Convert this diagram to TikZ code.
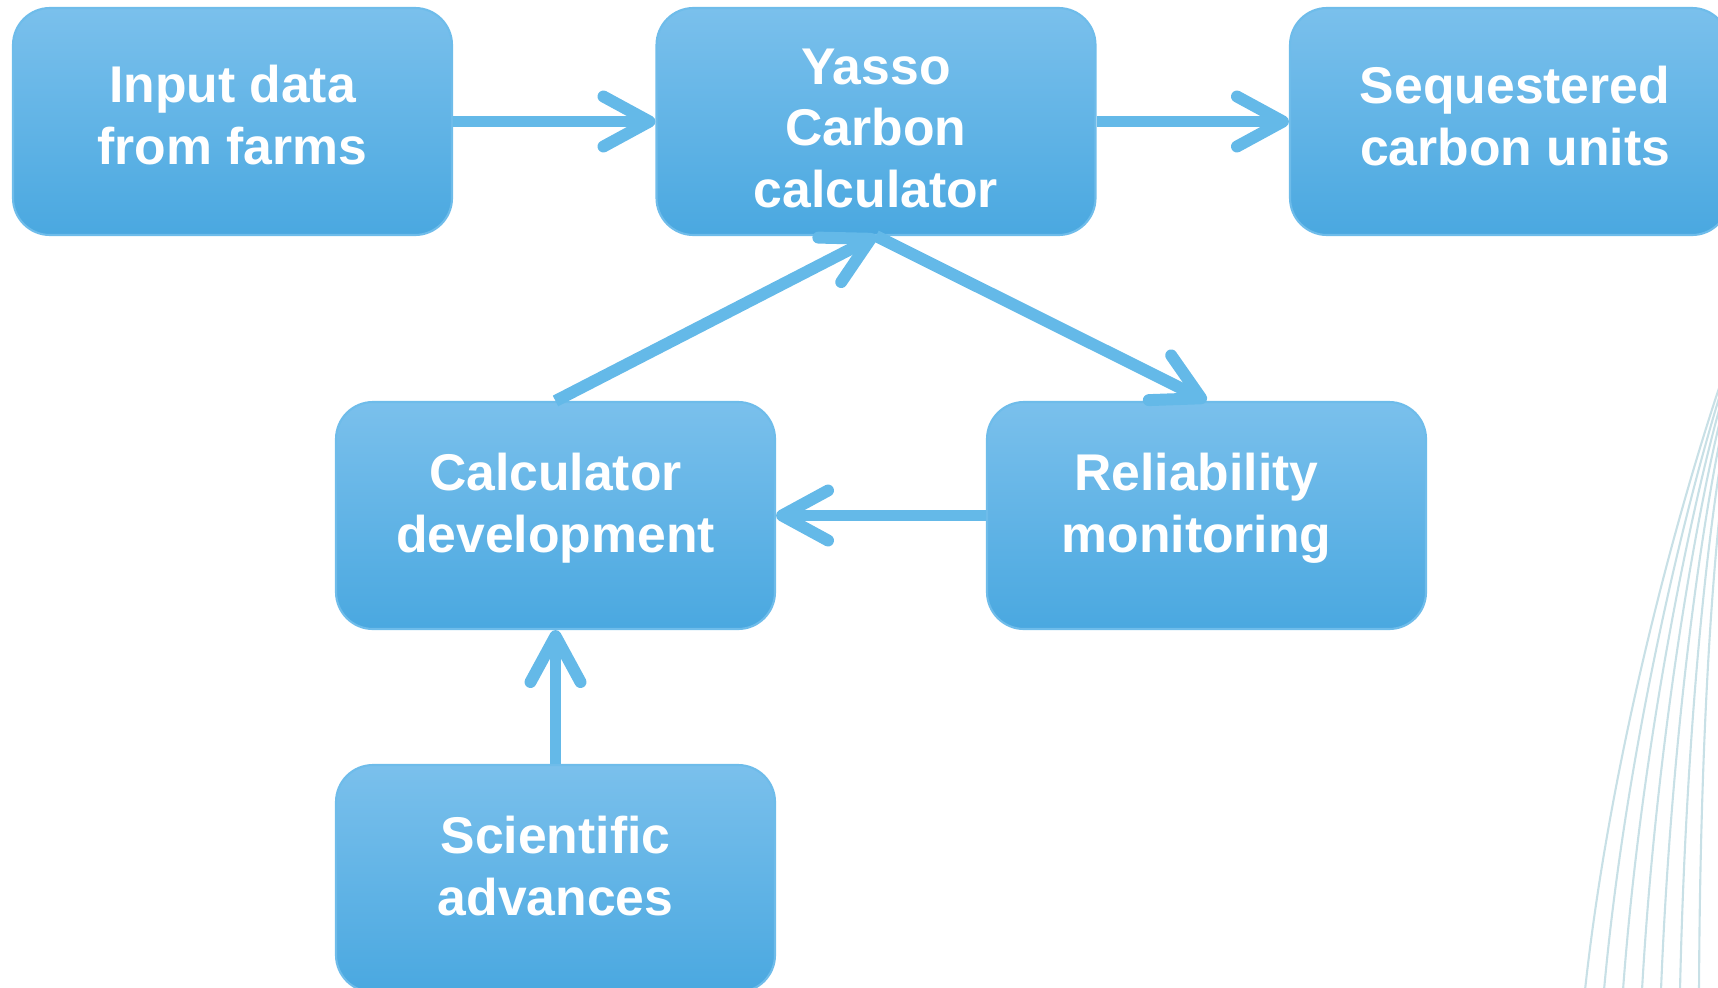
\documentclass[tikz,border=0pt]{standalone}
\usepackage{fontspec}
\setmainfont{Liberation Sans}
\usetikzlibrary{arrows.meta,positioning}

\definecolor{boxtop}{RGB}{122,192,236}
\definecolor{boxmid}{RGB}{92,186,240}
\definecolor{boxbot}{RGB}{74,168,224}
\definecolor{boxline}{RGB}{110,188,234}
\definecolor{flow}{RGB}{100,185,232}
\definecolor{swirl}{RGB}{200,224,230}

% lift a centred block of lines a little inside its box
\newcommand{\liftlines}[2]{\raisebox{#1}[\height][\depth]{\begin{tabular}{@{}c@{}}#2\end{tabular}}}

\begin{document}
\begin{tikzpicture}[
  box/.style={rounded corners=0.37cm, minimum width=4.39cm, minimum height=2.27cm,
    draw=boxline, line width=0.6pt, top color=boxtop, middle color=boxmid, bottom color=boxbot,
    text=white, align=center, font=\bfseries\fontsize{14.7}{17.6}\selectfont},
  arrow/.style={-{Straight Barb[length=4.6mm, width=5mm, round]}, line width=3.4pt, draw=flow},
]
\useasboundingbox (0,0) rectangle (17.18,-9.87);
\clip (0,0) rectangle (17.18,-9.87);

% faint background lines
\foreach \i in {0,...,6}
  \draw[swirl, line width=0.6pt] (17.2+0.03*\i,-3.85) .. controls (16.75+0.06*\i,-5.2) and (16.1+0.15*\i,-7.6) .. (15.85+0.19*\i,-9.9);

\node[box] (input) at (2.325,-1.215) {\liftlines{0cm}{Input data\\from farms}};
\node[box] (yasso) at (8.76,-1.215) {\liftlines{-0.12cm}{Yasso\\Carbon\\calculator}};
\node[box] (units) at (15.095,-1.215) {\hspace*{0.11cm}\liftlines{-0.01cm}{Sequestered\\carbon units}};
\node[box] (dev) at (5.555,-5.155) {\liftlines{0.066cm}{Calculator\\development}};
\node[box] (monitor) at (12.065,-5.155) {\liftlines{0.066cm}{Reliability\\monitoring}\hspace*{0.2cm}};
\node[box] (science) at (5.555,-8.785) {\liftlines{0.066cm}{Scientific\\advances}};

\draw[arrow] (input) -- (yasso);
\draw[arrow] (yasso) -- (units);
\draw[arrow] (dev.north) -- (yasso.south);
\draw[arrow] (yasso.south) -- (monitor.north);
\draw[arrow] (monitor) -- (dev);
\draw[arrow] (science) -- (dev);
\end{tikzpicture}
\end{document}
